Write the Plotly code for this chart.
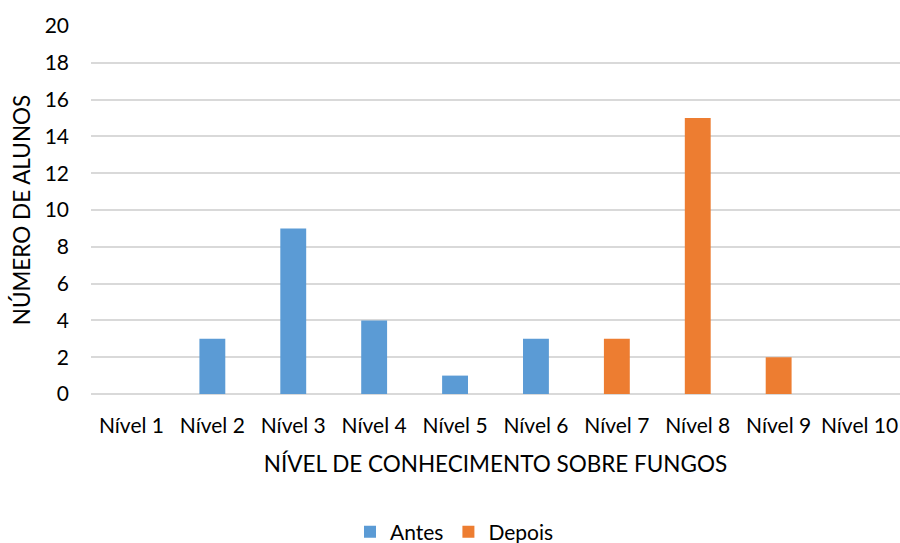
import plotly.graph_objects as go

categorias = ["Nível 1", "Nível 2", "Nível 3", "Nível 4", "Nível 5",
              "Nível 6", "Nível 7", "Nível 8", "Nível 9", "Nível 10"]
antes = [0, 3, 9, 4, 1, 3, 0, 0, 0, 0]
depois = [0, 0, 0, 0, 0, 0, 3, 15, 2, 0]
y_ticks = [0, 2, 4, 6, 8, 10, 12, 14, 16, 18, 20]

FONT = "Lato"
fig = go.Figure()
fig.add_trace(go.Bar(x=categorias, y=antes, name="Antes", marker_color="#5B9BD5",
                     marker_line_width=0))
fig.add_trace(go.Bar(x=categorias, y=depois, name="Depois", marker_color="#ED7D31",
                     marker_line_width=0))

fig.update_layout(
    width=900, height=543,
    margin=dict(l=91, r=0, t=26, b=149, autoexpand=False),
    barmode="overlay", bargap=0.68,
    plot_bgcolor="white", paper_bgcolor="white",
    font=dict(family=FONT, size=21, color="#000000"),
    showlegend=True,
    legend=dict(orientation="h", xref="container", yref="container",
                x=0.505, y=0.02, xanchor="center", yanchor="middle",
                font=dict(size=21, family=FONT, color="#000000"),
                itemwidth=30, traceorder="normal"),
)
fig.update_xaxes(
    showgrid=False, showline=False, ticks="", ticklabelstandoff=17, automargin=False,
    tickfont=dict(size=21, family=FONT),
    title=dict(text="NÍVEL DE CONHECIMENTO SOBRE FUNGOS", standoff=20,
               font=dict(size=22.5, family=FONT)),
)
fig.update_yaxes(
    range=[0, 20], tickvals=y_ticks, showgrid=True, gridcolor="#D9D9D9", gridwidth=1.5,
    zeroline=True, zerolinecolor="#D9D9D9", zerolinewidth=1.5,
    showline=False, ticks="", ticklabelstandoff=21, automargin=False,
    tickfont=dict(size=21, family=FONT),
    title=dict(text="NÚMERO DE ALUNOS", standoff=7, font=dict(size=22.5, family=FONT)),
)
fig.write_html("out.html", config={"displayModeBar": False},
               post_script="document.body.style.margin='0';")
